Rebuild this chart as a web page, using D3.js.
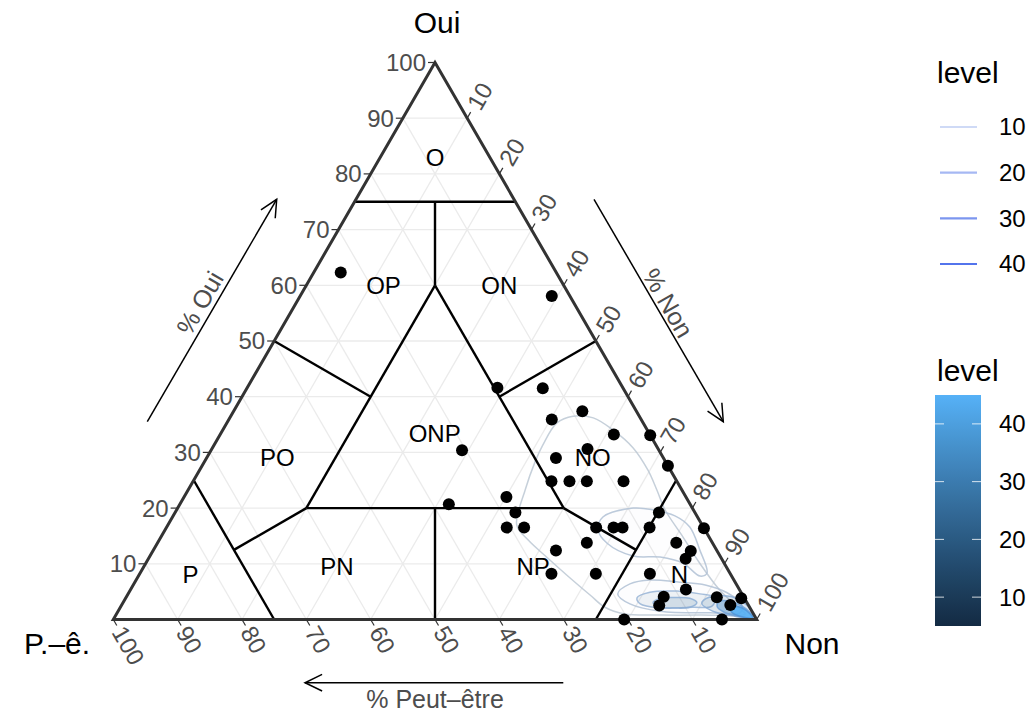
<!DOCTYPE html>
<meta charset="utf-8">
<style>
  body { margin: 0; background: #fff; }
  text { font-family: "Liberation Sans", Arial, sans-serif; }
</style>
<body>
<script src="https://d3js.org/d3.v7.min.js"></script>
<script>
// responses in %, one entry per respondent group
var oui = [62.3, 58.1, 41.6, 41.5, 37.4, 35.9, 33.2, 33.1, 30.4, 30.6, 29.0, 27.6, 24.8, 24.8, 24.8, 24.8,
           22.0, 20.7, 19.2, 19.2, 16.5, 16.5, 16.5, 16.5, 16.5, 16.5, 16.4, 13.8, 13.8, 12.3, 10.9, 12.4,
           8.2, 8.2, 8.2, 5.4, 4.1, 2.5, 4.0, 2.6, 3.8, 0, 0];
var non = [4.2, 39.1, 38.9, 46.0, 54.2, 50.2, 61.2, 66.9, 39.0, 58.4, 54.3, 72.4, 55.7, 58.5, 61.2, 66.9,
           50.1, 41.8, 52.9, 75.2, 52.9, 55.6, 66.8, 69.5, 70.9, 75.1, 83.6, 66.7, 80.6, 83.6, 83.5, 62.6,
           64.0, 70.9, 79.3, 86.3, 83.5, 83.6, 91.8, 94.6, 95.7, 79.4, 94.6];
var peut = [33.5, 2.8, 19.5, 12.5, 8.4, 13.9, 5.6, 0, 30.6, 11.0, 16.7, 0, 19.5, 16.7, 14.0, 8.3,
            27.9, 37.5, 27.9, 5.6, 30.6, 27.9, 16.7, 14.0, 12.6, 8.4, 0, 19.5, 5.6, 4.1, 5.6, 25.0,
            27.8, 20.9, 12.5, 8.3, 12.4, 13.9, 4.2, 2.8, 0.5, 20.6, 5.4];

// density contours: level, then outline as % oui / % non
var contourLevel = [5, 10, 10, 20, 25, 25, 35, 45];
var contourOui = [
  [31.3, 35.3, 36.5, 36.2, 34.0, 30.8, 26.8, 23.2, 19.7, 14.8, 10.1, 5.3, 2.2, 1.0, 0.8, 0.8, 1.0, 2.2, 4.4, 7.5, 11.0, 14.3, 17.0, 23.2, 28.3],
  [16.1, 18.4, 20.0, 19.7, 18.6, 16.6, 12.5, 8.35, 7.8, 10.1, 11.2, 11.4, 13.7],
  [4.6, 6.4, 7.1, 6.7, 6.2, 4.8, 2.6, 1.2, 1.2, 1.5, 2.8],
  [3.9, 4.9, 5.1, 4.6, 3.9, 2.4, 2.2, 2.1, 2.8],
  [3.0, 3.8, 3.95, 3.8, 3.0, 2.2, 2.05, 2.2],
  [4.0, 4.2, 3.2, 1.3, 0.2, 0.6, 1.5, 2.9],
  [3.2, 3.1, 1.9, 0.45, 0.6, 1.35, 2.3],
  [2.3, 2.1, 1.0, 0.27, 0.6, 1.35]
];
var contourNon = [
  [51.1, 51.3, 53.2, 56.5, 60.7, 65.4, 69.7, 72.9, 75.9, 81.15, 86.1, 91.6, 96.0, 97.7, 90.8, 84.6, 79.0, 75.3, 71.9, 67.2, 62.05, 57.3, 54.2, 52.4, 51.4],
  [67.3, 66.9, 70.8, 74.0, 78.0, 81.3, 84.9, 88.1, 87.3, 83.5, 79.4, 75.1, 69.9],
  [76.1, 77.1, 79.9, 84.7, 88.9, 93.0, 96.4, 96.8, 92.15, 84.2, 78.9],
  [79.45, 80.95, 85.05, 88.9, 91.6, 91.85, 89.0, 83.9, 80.5],
  [82.4, 83.1, 85.3, 87.7, 89.2, 88.5, 86.3, 83.9],
  [90.6, 93.4, 96.2, 98.7, 99.6, 96.3, 92.4, 90.0],
  [92.6, 94.9, 97.4, 99.2, 96.8, 94.2, 92.7],
  [94.8, 96.6, 98.5, 99.3, 97.1, 95.4]
];

// zone labels
var zoneNames = ["O", "OP", "ON", "ONP", "PO", "NO", "P", "PN", "NP", "N"];
var zoneOui   = [83, 60, 60, 33.3, 29, 29, 8, 9.5, 9.5, 8];
var zoneNon   = [8.5, 12, 30, 33.3, 11, 60, 8, 30, 60.5, 84];

// zone borders: [oui, non] start, [oui, non] end
var borderFrom = [[75, 0], [75, 12.5], [60, 20], [60, 20], [50, 0], [40, 40], [20, 20], [20, 40], [25, 0], [12.5, 12.5], [20, 60], [25, 75]];
var borderTo   = [[75, 25], [60, 20], [20, 20], [20, 60], [40, 20], [50, 50], [20, 60], [0, 50], [0, 25], [20, 20], [12.5, 75], [0, 75]];

var ticks = [10, 20, 30, 40, 50, 60, 70, 80, 90, 100];
var lineLegend = [10, 20, 30, 40];

var W = 1030, H = 712;
var svg = d3.select("body").append("svg").attr("width", W).attr("height", H);

// horizontal position (non + oui/2) and vertical (oui)
var x = d3.scaleLinear().domain([0, 100]).range([113.3, 756.7]);
var y = d3.scaleLinear().domain([0, 100]).range([619.5, 62.5]);
function px(o, n) { return [x(n + o / 2), y(o)]; }

var s3 = Math.sqrt(3) / 2;

// grid
var grid = svg.append("g").attr("stroke", "#EBEBEB").attr("stroke-width", 1.3);
ticks.slice(0, 9).forEach(function(v) {
  [[px(v, 0), px(v, 100 - v)], [px(0, v), px(100 - v, v)], [px(0, 100 - v), px(100 - v, 0)]].forEach(function(s) {
    grid.append("line").attr("x1", s[0][0]).attr("y1", s[0][1]).attr("x2", s[1][0]).attr("y2", s[1][1]);
  });
});

// contours
var fill = d3.scaleLinear().domain([5, 45]).range(["#132B43", "#56B1F7"]).interpolate(d3.interpolateLab);
var alpha = d3.scalePow().exponent(3).domain([5, 45]).range([0, 0.85]);
var edge = d3.scaleLinear().domain([5, 45]).range(["#bcc8d4", "#4f94d8"]).interpolate(d3.interpolateLab);
var lineCol = d3.scaleLinear().domain([10, 40]).range(["#cfdaf6", "#5374ec"]);
var shape = d3.line().curve(d3.curveCatmullRomClosed);
svg.append("defs").append("clipPath").attr("id", "tri").append("path")
  .attr("d", "M" + px(100, 0) + "L" + px(0, 100) + "L" + px(0, 0) + "Z");
svg.append("g").attr("clip-path", "url(#tri)").selectAll("path").data(contourLevel).join("path")
  .attr("d", function(lv, i) { return shape(contourOui[i].map(function(o, j) { return px(o, contourNon[i][j]); })); })
  .attr("fill", function(lv) { return fill(lv); })
  .attr("fill-opacity", function(lv) { return alpha(lv); })
  .attr("stroke", function(lv) { return edge(lv); })
  .attr("stroke-opacity", 0.85)
  .attr("stroke-width", 1.5);

// zone borders
svg.append("g").attr("stroke", "#000").attr("stroke-width", 2.4).selectAll("line")
  .data(borderFrom).join("line")
  .attr("x1", function(d) { return px(d[0], d[1])[0]; })
  .attr("y1", function(d) { return px(d[0], d[1])[1]; })
  .attr("x2", function(d, i) { return px(borderTo[i][0], borderTo[i][1])[0]; })
  .attr("y2", function(d, i) { return px(borderTo[i][0], borderTo[i][1])[1]; });

// triangle
svg.append("path").attr("d", "M" + px(100, 0) + "L" + px(0, 100) + "L" + px(0, 0) + "Z")
  .attr("fill", "none").attr("stroke", "#333").attr("stroke-width", 3);

// ticks and tick labels
var ax = svg.append("g");
ticks.forEach(function(v) {
  var a = px(v, 0), b = px(100 - v, v), c = px(0, 100 - v);
  ax.append("line").attr("x1", a[0]).attr("y1", a[1]).attr("x2", a[0] - 7).attr("y2", a[1]).attr("stroke", "#333").attr("stroke-width", 1.2);
  ax.append("line").attr("x1", b[0]).attr("y1", b[1]).attr("x2", b[0] + 3.5).attr("y2", b[1] - 7 * s3).attr("stroke", "#333").attr("stroke-width", 1.2);
  ax.append("line").attr("x1", c[0]).attr("y1", c[1]).attr("x2", c[0] + 3.5).attr("y2", c[1] + 7 * s3).attr("stroke", "#333").attr("stroke-width", 1.2);
  ax.append("text").attr("x", a[0] - 9).attr("y", a[1]).attr("text-anchor", "end").attr("dy", "0.35em")
    .attr("font-size", 24).attr("fill", "#4D4D4D").text(v);
  ax.append("text").attr("transform", "translate(" + (b[0] + 6) + "," + (b[1] - 12 * s3) + ") rotate(-60)")
    .attr("dy", "0.35em").attr("font-size", 24).attr("fill", "#4D4D4D").text(v);
  ax.append("text").attr("transform", "translate(" + (c[0] + 5) + "," + (c[1] + 10 * s3) + ") rotate(60)")
    .attr("dy", "0.35em").attr("font-size", 24).attr("fill", "#4D4D4D").text(v);
});

// vertex titles
svg.append("text").attr("x", 437).attr("y", 33).attr("text-anchor", "middle").attr("font-size", 30).text("Oui");
svg.append("text").attr("x", 57).attr("y", 654).attr("text-anchor", "middle").attr("font-size", 30).text("P.\u2013\u00ea.");
svg.append("text").attr("x", 812).attr("y", 654).attr("text-anchor", "middle").attr("font-size", 30).text("Non");

// axis arrows
function arrow(p0, p1, label, lp, rot) {
  var g = svg.append("g");
  g.append("line").attr("x1", p0[0]).attr("y1", p0[1]).attr("x2", p1[0]).attr("y2", p1[1]).attr("stroke", "#000").attr("stroke-width", 1.5);
  var ang = Math.atan2(p1[1] - p0[1], p1[0] - p0[0]), hl = 19, ha = 0.45;
  g.append("path").attr("d", "M" + [p1[0] - hl * Math.cos(ang - ha), p1[1] - hl * Math.sin(ang - ha)] + "L" + p1 +
    "L" + [p1[0] - hl * Math.cos(ang + ha), p1[1] - hl * Math.sin(ang + ha)])
    .attr("fill", "none").attr("stroke", "#000").attr("stroke-width", 1.5);
  g.append("text").attr("transform", "translate(" + lp + ") rotate(" + rot + ")").attr("text-anchor", "middle")
    .attr("dy", "0.35em").attr("font-size", 25).attr("fill", "#4D4D4D").text(label);
}
arrow([147.3, 421.7], [276.7, 199.3], "% Oui", [200, 303], -60);
arrow([594, 199.3], [723.3, 421.7], "% Non", [668, 303], 60);
arrow([563.3, 682.7], [305, 682.7], "% Peut\u2013\u00eatre", [435, 699], 0);

// points
svg.append("g").selectAll("circle").data(oui).join("circle")
  .attr("cx", function(o, i) { return px(o, non[i])[0]; })
  .attr("cy", function(o) { return y(o); })
  .attr("r", 6).attr("fill", "#000");

// zone labels
svg.append("g").selectAll("text").data(zoneNames).join("text")
  .attr("x", function(d, i) { return px(zoneOui[i], zoneNon[i])[0]; })
  .attr("y", function(d, i) { return px(zoneOui[i], zoneNon[i])[1]; })
  .attr("text-anchor", "middle").attr("dy", "0.35em").attr("font-size", 24).text(function(d) { return d; });

// legend: contour lines
var lg = svg.append("g");
lg.append("text").attr("x", 937).attr("y", 72).attr("dy", "0.35em").attr("font-size", 30).text("level");
var ly = d3.scalePoint().domain(lineLegend).range([127, 264]);
lineLegend.forEach(function(v) {
  lg.append("line").attr("x1", 940).attr("x2", 977).attr("y1", ly(v)).attr("y2", ly(v)).attr("stroke", lineCol(v)).attr("stroke-width", 2.2);
  lg.append("text").attr("x", 999).attr("y", ly(v)).attr("dy", "0.35em").attr("font-size", 24).text(v);
});

// legend: colour bar
lg.append("text").attr("x", 937).attr("y", 370).attr("dy", "0.35em").attr("font-size", 30).text("level");
var by = d3.scaleLinear().domain([5, 45]).range([626, 395]);
var grad = svg.append("defs").append("linearGradient").attr("id", "bar").attr("x1", 0).attr("x2", 0).attr("y1", 1).attr("y2", 0);
d3.range(5, 45.1, 2.5).forEach(function(v) {
  grad.append("stop").attr("offset", (v - 5) / 40).attr("stop-color", fill(v));
});
lg.append("rect").attr("x", 935).attr("y", by(45)).attr("width", 46).attr("height", by(5) - by(45)).attr("fill", "url(#bar)");
lineLegend.forEach(function(v) {
  lg.append("line").attr("x1", 935).attr("x2", 944).attr("y1", by(v)).attr("y2", by(v)).attr("stroke", "#fff").attr("stroke-opacity", 0.8);
  lg.append("line").attr("x1", 972).attr("x2", 981).attr("y1", by(v)).attr("y2", by(v)).attr("stroke", "#fff").attr("stroke-opacity", 0.8);
  lg.append("text").attr("x", 999).attr("y", by(v)).attr("dy", "0.35em").attr("font-size", 24).text(v);
});
</script>
</body>
